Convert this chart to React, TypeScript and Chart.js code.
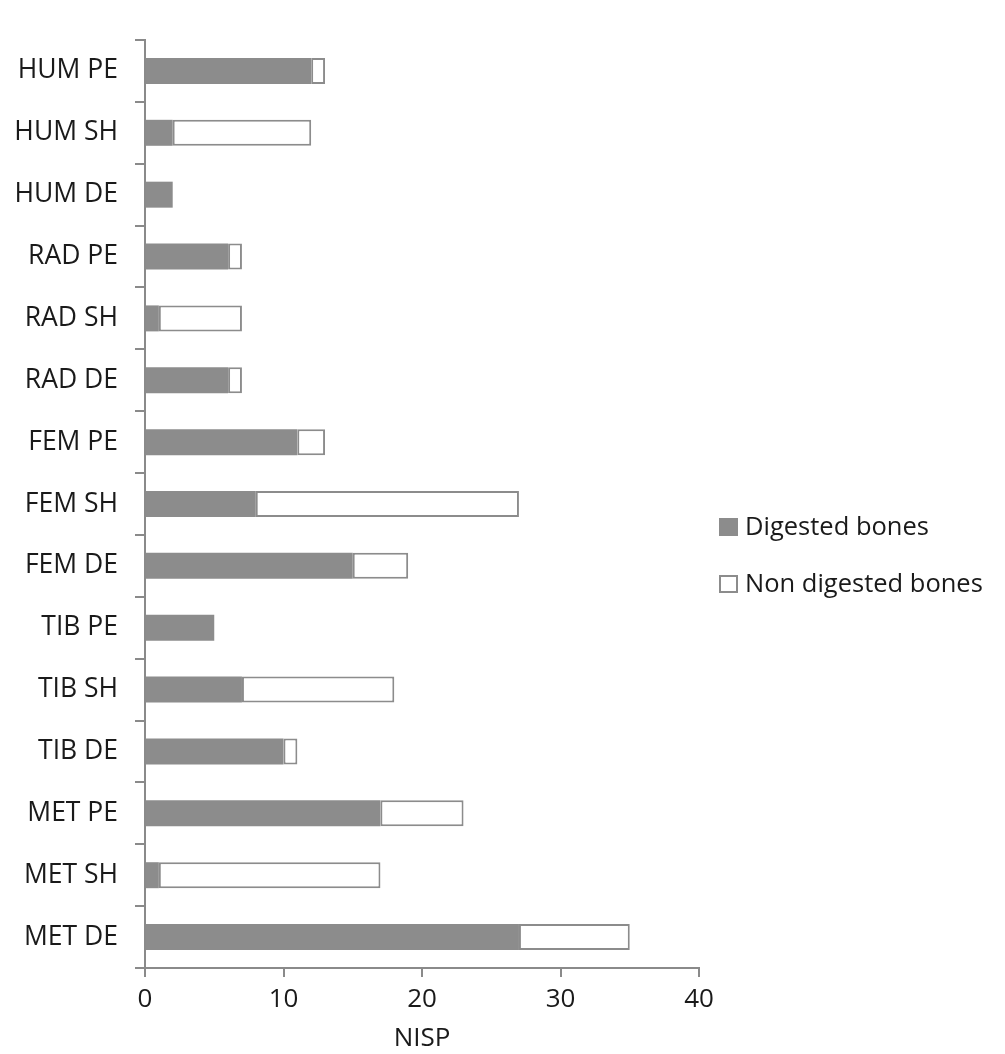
import React, { useEffect, useRef } from "react";
import { Chart, registerables } from "chart.js";

Chart.register(...registerables);

const categories = [
  "HUM PE", "HUM SH", "HUM DE",
  "RAD PE", "RAD SH", "RAD DE",
  "FEM PE", "FEM SH", "FEM DE",
  "TIB PE", "TIB SH", "TIB DE",
  "MET PE", "MET SH", "MET DE",
];
const digested = [12, 2, 2, 6, 1, 6, 11, 8, 15, 5, 7, 10, 17, 1, 27];
const nonDigested = [1, 10, 0, 1, 6, 1, 2, 19, 4, 0, 11, 1, 6, 16, 8];
const seriesNames = ["Digested bones", "Non digested bones"];
const xTicks = [0, 10, 20, 30, 40];
const xTitle = "NISP";

const GRAY = "#8c8c8c";
const AXIS = "#8a8a8a";
const FONT = "Open Sans, Lato, sans-serif";

const legendPlugin = {
  id: "customLegend",
  afterDraw(chart: any) {
    const ctx = chart.ctx;
    const x0 = chart.chartArea.right + 20;
    const ys = [527, 584];
    ctx.save();
    ctx.font = `25.5px ${FONT}`;
    ctx.textBaseline = "middle";
    seriesNames.forEach((name, i) => {
      const y = ys[i];
      if (i === 0) {
        ctx.fillStyle = GRAY;
        ctx.fillRect(x0, y - 9, 19, 18);
      } else {
        ctx.fillStyle = "#ffffff";
        ctx.fillRect(x0, y - 9, 19, 18);
        ctx.strokeStyle = GRAY;
        ctx.lineWidth = 2;
        ctx.strokeRect(x0 + 1, y - 8, 17, 16);
      }
      ctx.fillStyle = "#1a1a1a";
      ctx.textAlign = "left";
      ctx.fillText(name, x0 + 26, y + 1);
    });
    ctx.restore();
  },
};

export default function App() {
  const ref = useRef<HTMLCanvasElement | null>(null);
  useEffect(() => {
    document.body.style.margin = "0";
    const canvas = ref.current!;
    const chart = new Chart(canvas, {
      type: "bar",
      data: {
        labels: categories,
        datasets: [
          {
            label: seriesNames[0],
            data: digested.map((v) => (v === 0 ? null : v)),
            backgroundColor: GRAY,
            borderColor: GRAY,
            borderWidth: 0,
            barPercentage: 0.42,
            categoryPercentage: 1,
          },
          {
            label: seriesNames[1],
            data: nonDigested.map((v) => (v === 0 ? null : v)),
            backgroundColor: "#ffffff",
            borderColor: GRAY,
            borderWidth: 2,
            borderSkipped: false,
            barPercentage: 0.42,
            categoryPercentage: 1,
          },
        ],
      },
      options: {
        indexAxis: "y",
        responsive: false,
        animation: false,
        devicePixelRatio: 1,
        layout: { padding: { left: 0, right: 306, top: 40, bottom: 0 } },
        plugins: {
          legend: { display: false },
          tooltip: { enabled: false },
        },
        scales: {
          x: {
            stacked: true,
            min: 0,
            max: 40,
            afterBuildTicks: (axis: any) => {
              axis.ticks = xTicks.map((v) => ({ value: v }));
            },
            grid: {
              drawOnChartArea: false,
              drawTicks: true,
              tickLength: 9,
              color: AXIS,
              lineWidth: 2,
            },
            border: { color: AXIS, width: 2 },
            ticks: {
              color: "#1a1a1a",
              font: { family: FONT, size: 26 },
              padding: 7,
            },
            title: {
              display: true,
              text: xTitle,
              color: "#1a1a1a",
              font: { family: FONT, size: 26 },
              padding: { top: 0, bottom: 0 },
            },
            afterFit: (axis: any) => {
              axis.height = 86;
            },
          },
          y: {
            stacked: true,
            grid: {
              drawOnChartArea: false,
              drawTicks: true,
              tickLength: 10,
              color: AXIS,
              lineWidth: 2,
              offset: true,
            },
            border: { color: AXIS, width: 2 },
            ticks: {
              color: "#1a1a1a",
              font: { family: FONT, size: 26.5 },
              padding: 17,
            },
            afterFit: (axis: any) => {
              axis.width = 145;
            },
          },
        },
      },
      plugins: [legendPlugin],
    } as any);
    return () => chart.destroy();
  }, []);
  return <canvas ref={ref} width={1005} height={1054} style={{ display: "block" }} />;
}
